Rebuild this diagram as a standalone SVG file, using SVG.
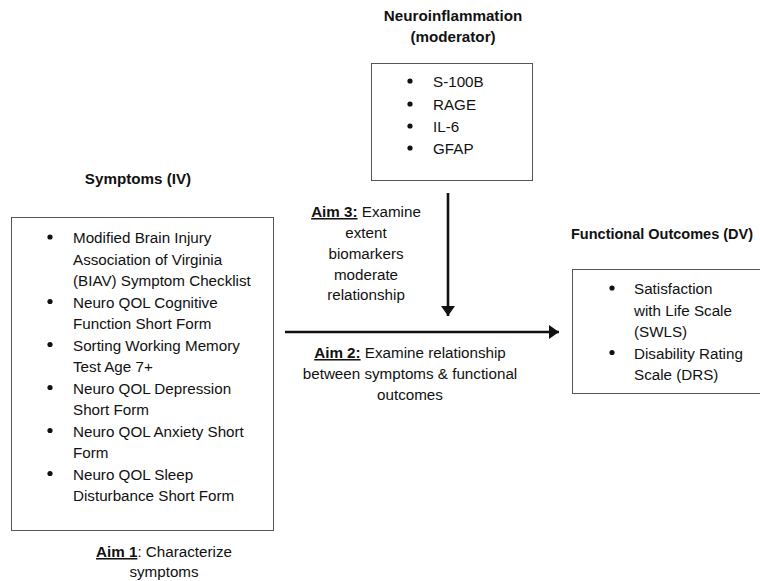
<svg xmlns="http://www.w3.org/2000/svg" width="760" height="581" viewBox="0 0 760 581">
<style>
text{font-family:"Liberation Sans",Arial,sans-serif;font-size:15.2px;fill:#111}
.b{font-weight:bold}
.c{text-anchor:middle}
.box{fill:#fff;stroke:#555;stroke-width:1}
.u{text-decoration:underline;font-weight:bold}
.dot{fill:#111}
.ln{stroke:#111;stroke-width:2.6;fill:none}
</style>
<defs>
<marker id="ah" markerUnits="userSpaceOnUse" markerWidth="12" markerHeight="14" refX="10" refY="7" orient="auto">
<path d="M0,0 L10,7 L0,14 Z" fill="#111"/>
</marker>
</defs>
<rect width="760" height="581" fill="#fff"/>

<g id="moderator">
<text class="b c" x="453" y="21">Neuroinflammation</text>
<text class="b c" x="453" y="42">(moderator)</text>
<rect class="box" x="371.5" y="63.5" width="161" height="117"/>
<circle class="dot" cx="410" cy="81" r="2.6"/><text x="433" y="87">S-100B</text>
<circle class="dot" cx="410" cy="104" r="2.6"/><text x="433" y="110">RAGE</text>
<circle class="dot" cx="410" cy="126" r="2.6"/><text x="433" y="132">IL-6</text>
<circle class="dot" cx="410" cy="148" r="2.6"/><text x="433" y="154">GFAP</text>
</g>

<g id="symptoms">
<text class="b c" x="138" y="184">Symptoms (IV)</text>
<rect class="box" x="11.5" y="217.5" width="262" height="313"/>
<circle class="dot" cx="50" cy="237" r="2.6"/>
<text x="73" y="243">Modified Brain Injury</text>
<text x="73" y="264.5">Association of Virginia</text>
<text x="73" y="286">(BIAV) Symptom Checklist</text>
<circle class="dot" cx="50" cy="301.5" r="2.6"/>
<text x="73" y="307.5">Neuro QOL Cognitive</text>
<text x="73" y="329">Function Short Form</text>
<circle class="dot" cx="50" cy="344.5" r="2.6"/>
<text x="73" y="350.5">Sorting Working Memory</text>
<text x="73" y="372">Test Age 7+</text>
<circle class="dot" cx="50" cy="387.5" r="2.6"/>
<text x="73" y="393.5">Neuro QOL Depression</text>
<text x="73" y="415">Short Form</text>
<circle class="dot" cx="50" cy="430.5" r="2.6"/>
<text x="73" y="436.5">Neuro QOL Anxiety Short</text>
<text x="73" y="458">Form</text>
<circle class="dot" cx="50" cy="473.5" r="2.6"/>
<text x="73" y="479.5">Neuro QOL Sleep</text>
<text x="73" y="501">Disturbance Short Form</text>
<text class="c" x="164" y="557"><tspan class="u">Aim 1</tspan>: Characterize</text>
<text class="c" x="164" y="577">symptoms</text>
</g>

<g id="outcomes">
<text class="b" x="571" y="239" style="font-size:14.5px">Functional Outcomes (DV)</text>
<rect class="box" x="572.5" y="269.5" width="200" height="124"/>
<circle class="dot" cx="612" cy="288" r="2.6"/>
<text x="634" y="294">Satisfaction</text>
<text x="634" y="315.5">with Life Scale</text>
<text x="634" y="337">(SWLS)</text>
<circle class="dot" cx="612" cy="352.5" r="2.6"/>
<text x="634" y="358.5">Disability Rating</text>
<text x="634" y="380">Scale (DRS)</text>
</g>

<g id="connectors">
<line class="ln" x1="448" y1="193" x2="448" y2="316" marker-end="url(#ah)"/>
<line class="ln" x1="285" y1="332" x2="559" y2="332" marker-end="url(#ah)"/>
</g>

<g id="labels">
<text class="c" x="366" y="217"><tspan class="u">Aim 3:</tspan> Examine</text>
<text class="c" x="366" y="238">extent</text>
<text class="c" x="366" y="259">biomarkers</text>
<text class="c" x="366" y="280">moderate</text>
<text class="c" x="366" y="300">relationship</text>
<text class="c" x="410" y="358"><tspan class="u">Aim 2:</tspan> Examine relationship</text>
<text class="c" x="410" y="379">between symptoms &amp; functional</text>
<text class="c" x="410" y="400">outcomes</text>
</g>
</svg>
